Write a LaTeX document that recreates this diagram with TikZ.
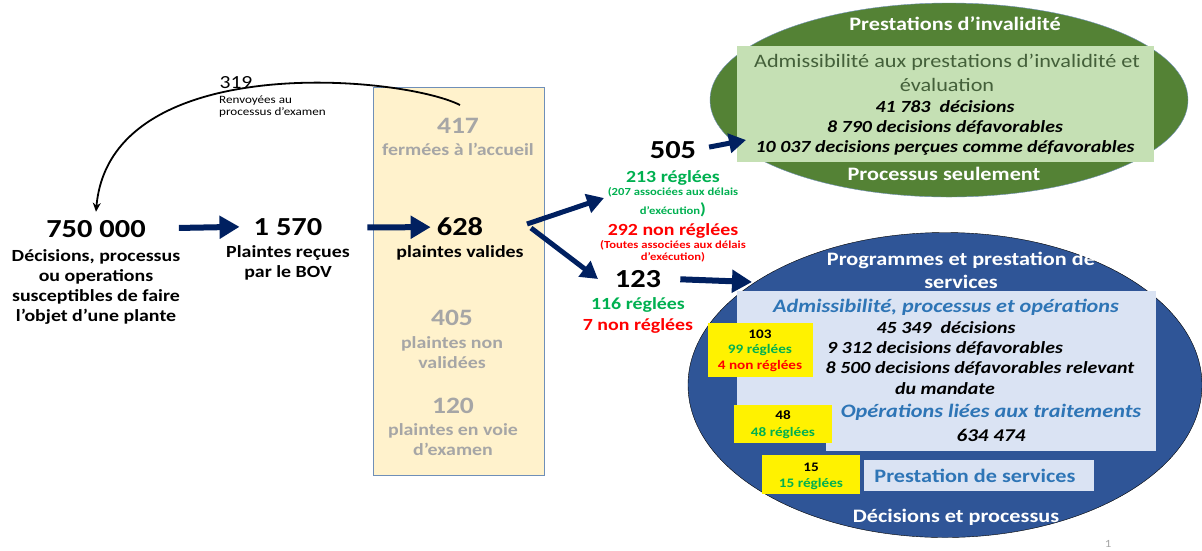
\documentclass[tikz,border=0pt]{standalone}
\usepackage{fontspec}
\setmainfont{Carlito}[FakeStretch=1.17]
\usepackage{tikz}
\usetikzlibrary{positioning, shapes.geometric, arrows.meta, calc}

\definecolor{navy}{HTML}{002060}
\definecolor{okgreen}{HTML}{00B050}
\definecolor{nogred}{HTML}{FF0000}
\definecolor{greytext}{HTML}{A6A6A6}
\definecolor{beige}{HTML}{FFF2CC}
\definecolor{beigeline}{HTML}{6F8FB8}
\definecolor{invgreen}{HTML}{548235}
\definecolor{invlight}{HTML}{C5E0B4}
\definecolor{invtext}{HTML}{44603A}
\definecolor{pgmblue}{HTML}{2F5597}
\definecolor{pgmlight}{HTML}{DAE3F3}
\definecolor{pgmtext}{HTML}{2E75B6}

\begin{document}
\begin{tikzpicture}[x=1pt, y=-1pt,
            bignum/.style={font=\fontsize{26}{30}\selectfont\bfseries, inner sep=0pt, anchor=base},
            desc/.style={font=\fontsize{17}{20}\selectfont\bfseries, align=center, inner sep=0pt, anchor=base},
            greynum/.style={bignum, font=\fontsize{23.5}{28}\selectfont\bfseries, text=greytext},
            greydesc/.style={desc, text=greytext},
            result/.style={font=\fontsize{17}{21}\selectfont\bfseries, inner sep=0pt, anchor=base},
            tiny/.style={font=\fontsize{10.8}{19}\selectfont\bfseries, align=center, inner sep=0pt, anchor=base},
            flow/.style={draw=navy, line width=6pt, -{Triangle[length=20pt, width=22pt]}},
            flowsm/.style={draw=navy, line width=5pt, -{Triangle[length=17pt, width=19pt]}},
            white title/.style={font=\fontsize{19}{23}\selectfont\bfseries, text=white, align=center, inner sep=0pt, anchor=base},
            bolditline/.style={font=\fontsize{17}{20.5}\selectfont\bfseries\itshape, inner sep=0pt, anchor=base},
            bluetitle/.style={font=\fontsize{19}{22}\selectfont\bfseries\itshape, text=pgmtext, inner sep=0pt, anchor=base},
            yellowbox/.style={fill=yellow, draw=none},
            smallcount/.style={font=\fontsize{13}{15.5}\selectfont\bfseries, align=center, inner sep=0pt, anchor=base}
        ]
        \useasboundingbox (0,0) rectangle (1202,550);

        % Kasten
        \draw[beigeline, fill=beige] (373,87) rectangle (544,475);

        % Ellipsen
        \node[ellipse, draw=beigeline, fill=invgreen, minimum width=478pt, minimum height=194pt, inner sep=0pt] (inv) at (949,100) {};
        \node[ellipse, draw=black, fill=pgmblue, minimum width=514pt, minimum height=305pt, inner sep=0pt] (pgm) at (945,385) {};
        \fill[invlight] (737,46) rectangle (1154,162);
        \fill[pgmlight] (737,291) rectangle (1156,405);
        \fill[pgmlight] (826,291) rectangle (1156,451);
        \fill[pgmlight] (864,460) rectangle (1094,491);
        \fill[yellowbox] (708,323) rectangle (813,377);
        \fill[yellowbox] (734,405) rectangle (832,443);
        \fill[yellowbox] (762,455) rectangle (860,494);

        % Knoten
        \node[bignum] (n750) at (96,237) {750 000};
        \node[desc, below=84pt of n750.base, anchor=base] (d750) {Décisions, processus\\ou operations\\susceptibles de faire\\l’objet d’une plante};
        \node[bignum] (n1570) at (288,235) {1 570};
        \node[desc, below=42pt of n1570.base, anchor=base] (d1570) {Plaintes reçues\\par le BOV};

        \node[greynum] (n417) at (458,133) {417};
        \node[greydesc, below=22pt of n417.base, anchor=base] (d417) {fermées à l’accueil};
        \node[bignum] (n628) at (460,235) {628};
        \node[desc, below=22pt of n628.base, anchor=base] (d628) {plaintes valides};
        \node[greynum] (n405) at (452,325) {405};
        \node[greydesc, below=43pt of n405.base, anchor=base] (d405) {plaintes non\\validées};
        \node[greynum] (n120) at (453,413) {120};
        \node[greydesc, below=42pt of n120.base, anchor=base] (d120) {plaintes en voie\\d’examen};

        \node[font=\fontsize{18.5}{20}\selectfont, inner sep=0pt, anchor=base] (n319) at (236,88) {319};
        \node[font=\fontsize{11.2}{11.5}\selectfont, align=left, inner sep=0pt, anchor=base west] (d319) at (219,115) {Renvoyées au\\processus d’examen};
        \coordinate (ret) at (460,105);

        \node[bignum] (n505) at (673,158) {505};
        \node[result, text=okgreen] (n213) at (673,182) {213 réglées};
        \node[tiny, text=okgreen] (d213) at (673,214) {(207 associées aux délais\\d’exécution{\fontsize{16}{16}\selectfont)}};
        \node[result, text=nogred] (n292) at (673,235) {292 non réglées};
        \node[tiny, text=nogred, font=\fontsize{10.8}{12}\selectfont\bfseries] (d292) at (673,260) {(Toutes associées aux délais\\d’exécution)};
        \node[bignum] (n123) at (638,287) {123};
        \node[result, text=okgreen] (n116) at (638,309) {116 réglées};
        \node[result, text=nogred] (n7) at (638,330) {7 non réglées};

        % Prestations d'invalidite
        \node[white title] (tinv) at (955,30) {Prestations d’invalidité};
        \node[font=\fontsize{19}{24}\selectfont, text=invtext, align=center, inner sep=0pt, anchor=base] (adm) at (947,91) {Admissibilité aux prestations d’invalidité et\\évaluation};
        \node[bolditline] (l41) at (945,112) {41 783\ \ décisions};
        \node[bolditline] (l8790) at (945,132) {8 790 decisions défavorables};
        \node[bolditline] (l10037) at (945,152) {10 037 decisions perçues comme défavorables};
        \node[white title] (binv) at (944,180) {Processus seulement};

        % Programmes
        \node[white title] (tpgm) at (961,288) {Programmes et prestation de\\services};
        \node[bluetitle] (apo) at (946,312) {Admissibilité, processus et opérations};
        \node[bolditline] (l45) at (946,333) {45 349\ \ décisions};
        \node[bolditline] (l9312) at (945,353) {9 312 decisions défavorables};
        \node[bolditline] (l8500) at (980,373) {8 500 decisions défavorables relevant};
        \node[bolditline] (lmand) at (945,394) {du mandate};
        \node[bluetitle] (olt) at (991,417) {Opérations liées aux traitements};
        \node[bolditline, font=\fontsize{18}{20}\selectfont\bfseries\itshape] (l634) at (991,441) {634 474};
        \node[font=\fontsize{19}{22}\selectfont\bfseries, text=pgmtext, inner sep=0pt, anchor=base] (pds) at (975,482) {Prestation de services};
        \node[white title] (bpgm) at (956,522) {Décisions et processus};

        \node[smallcount] (y103) at (760,369) {103\\\textcolor{okgreen}{99 réglées}\\\textcolor{nogred}{4 non réglées}};
        \node[smallcount, font=\fontsize{13}{17}\selectfont\bfseries] (y48) at (783,436) {48\\\textcolor{okgreen}{48 réglées}};
        \node[smallcount, font=\fontsize{13}{16}\selectfont\bfseries] (y15) at (811,487) {15\\\textcolor{okgreen}{15 réglées}};

        \node[font=\fontsize{11}{12}\selectfont, text=greytext, inner sep=0pt, anchor=base] (page) at (1108,547) {1};

        % Kanten
        \coordinate (s505) at (527,224);
        \coordinate (t505) at (604,198);
        \coordinate (s123) at (531,228);
        \coordinate (t123) at (598,279);
        \coordinate (t505b) at (746,140);
        \coordinate (t123b) at (752,282);
        \draw[black, line width=1.8pt, -{Stealth[length=9pt, width=8pt]}] (ret) .. controls (400,75) and (110,50) .. ([yshift=8pt]n750.north);
        \draw[flow, shorten <=33pt, shorten >=14pt] (n750.east) -- (n1570.west);
        \draw[flow, shorten <=45pt, shorten >=6pt] ([yshift=-1pt]n1570.east) -- ([yshift=-1pt]n628.west);
        \draw[flowsm] (s505) -- (t505);
        \draw[flowsm] (s123) -- (t123);
        \draw[flowsm, shorten <=13pt] (n505.east) -- (t505b);
        \draw[flow, shorten <=19pt] (n123.east) -- (t123b);

    \end{tikzpicture}
\end{document}
